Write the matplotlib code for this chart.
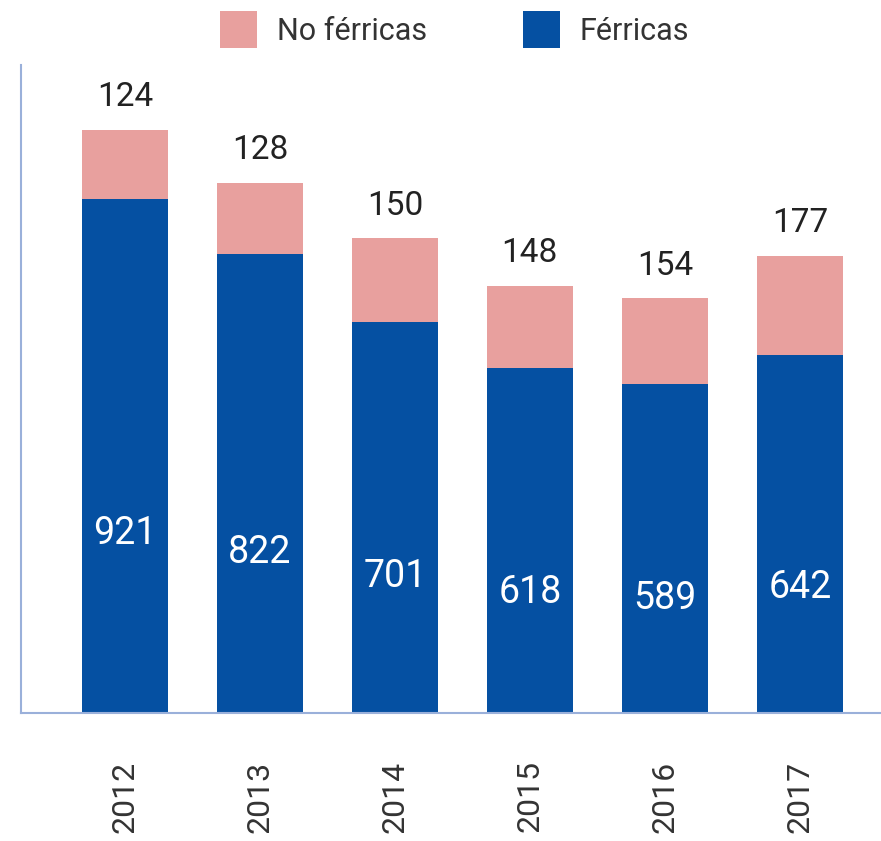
import matplotlib.pyplot as plt
import numpy as np

years = ['2012', '2013', '2014', '2015', '2016', '2017']
ferricas = [921, 822, 701, 618, 589, 642]
no_ferricas = [124, 128, 150, 148, 154, 177]

blue = '#0550A2'
pink = '#E8A09E'
spine_col = '#9AB0DA'

plt.rcParams['font.family'] = ['Roboto', 'DejaVu Sans']

fig = plt.figure(figsize=(8.81, 8.41), dpi=100)
ax = fig.add_axes([0.0238, 0.152, 0.976, 0.7705])

x = np.arange(len(years))
b1 = ax.bar(x, ferricas, width=0.637, color=blue, label='Férricas')
b2 = ax.bar(x, no_ferricas, width=0.637, bottom=ferricas, color=pink, label='No férricas')

for i in range(len(years)):
    ax.text(x[i], ferricas[i] * 0.35, str(ferricas[i]), ha='center', va='center',
            color='white', fontsize=27)
    ax.annotate(str(no_ferricas[i]), (x[i], ferricas[i] + no_ferricas[i]),
                xytext=(0, 12), textcoords='offset points', ha='center', va='bottom',
                color='#222222', fontsize=24)

ax.set_xlim(-0.77, 5.6)
ax.set_ylim(0, 1161)
ax.set_yticks([])
ax.set_xticks(x)
ax.set_xticklabels(years, rotation=90, fontsize=23, color='#333333')
ax.tick_params(axis='x', length=0, pad=34)

for s in ['top', 'right']:
    ax.spines[s].set_visible(False)
for s in ['left', 'bottom']:
    ax.spines[s].set_color(spine_col)
    ax.spines[s].set_linewidth(1.5)

handles = [b2, b1]
fig.legend(handles, ['No férricas', 'Férricas'], loc='center', bbox_to_anchor=(0.516, 0.965),
           ncol=2, frameon=False, fontsize=22, handlelength=1.2, handleheight=1.5,
           handletextpad=0.65, columnspacing=3.15, labelcolor='#333333')

fig.savefig('out.png', dpi=100)
